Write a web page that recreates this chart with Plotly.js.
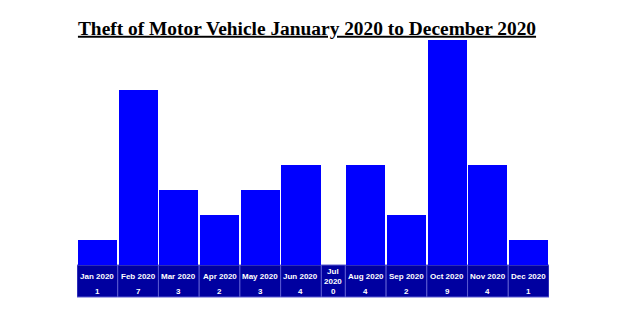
<!DOCTYPE html>
<html>
<head>
<meta charset="utf-8">
<script src="https://cdn.plot.ly/plotly-3.0.1.min.js"></script>
<style>html,body{margin:0;padding:0;background:#fff;}#chart{width:640px;height:320px;}</style>
</head>
<body>
<div id="chart"></div>
<script>
// Data
var months = ["Jan 2020","Feb 2020","Mar 2020","Apr 2020","May 2020","Jun 2020","Jul 2020","Aug 2020","Sep 2020","Oct 2020","Nov 2020","Dec 2020"];
var counts = [1, 7, 3, 2, 3, 4, 0, 4, 2, 9, 4, 1];
var chartTitle = "Theft of Motor Vehicle January 2020 to December 2020";

// Layout config: relative column widths (zero-count column is narrower, label wraps)
var colWidths = counts.map(function(v){ return v === 0 ? 24 : 40.7; });
var total = colWidths.reduce(function(a,b){return a+b;}, 0);
var lefts = [], centers = [], acc = 0;
colWidths.forEach(function(w){ lefts.push(acc); centers.push(acc + w/2); acc += w; });

// plot area spans 40..300 px vertically (260 px); helper to convert px -> paper
function py(p){ return (300 - p) / 260; }

var bars = {
  type: "bar",
  x: centers,
  y: counts,
  width: colWidths.map(function(w){ return w - 1.6; }),
  marker: {color: "#0000ff", line: {width: 0}},
  hoverinfo: "skip"
};

var shapes = [];
var annotations = [];
var cellFont = {family: "Liberation Sans, Arial, sans-serif", size: 8, color: "#ffffff"};
months.forEach(function(m, i){
  shapes.push({
    type: "rect", xref: "x", yref: "paper",
    x0: lefts[i], x1: lefts[i] + colWidths[i], y0: py(297), y1: py(265),
    fillcolor: "#0000a0", line: {color: "#5a5ad0", width: 1}, layer: "below"
  });
  var label = counts[i] === 0 ? m.replace(" ", "<br>") : m;
  annotations.push({
    xref: "x", yref: "paper", x: centers[i], y: py(276),
    text: "<b>" + label + "</b>", showarrow: false,
    font: cellFont, xanchor: "center", yanchor: "middle"
  });
  annotations.push({
    xref: "x", yref: "paper", x: centers[i], y: py(291),
    text: "<b>" + counts[i] + "</b>", showarrow: false,
    font: cellFont, xanchor: "center", yanchor: "middle"
  });
});

var layout = {
  width: 640, height: 320,
  margin: {l: 77, r: 91, t: 40, b: 20},
  paper_bgcolor: "#ffffff", plot_bgcolor: "#ffffff",
  showlegend: false,
  title: {
    text: "<b><u>" + chartTitle + "</u></b>",
    font: {family: "Liberation Serif, Times New Roman, serif", size: 19.4, color: "#000000"},
    x: 307/640, xref: "container", xanchor: "center",
    y: 1 - 28/320, yref: "container", yanchor: "middle"
  },
  xaxis: {range: [0, total], visible: false, fixedrange: true},
  yaxis: {range: [0, 9], domain: [py(265), 1], visible: false, fixedrange: true},
  bargap: 0,
  shapes: shapes,
  annotations: annotations
};

Plotly.newPlot("chart", [bars], layout, {displayModeBar: false, staticPlot: true});
</script>
</body>
</html>
